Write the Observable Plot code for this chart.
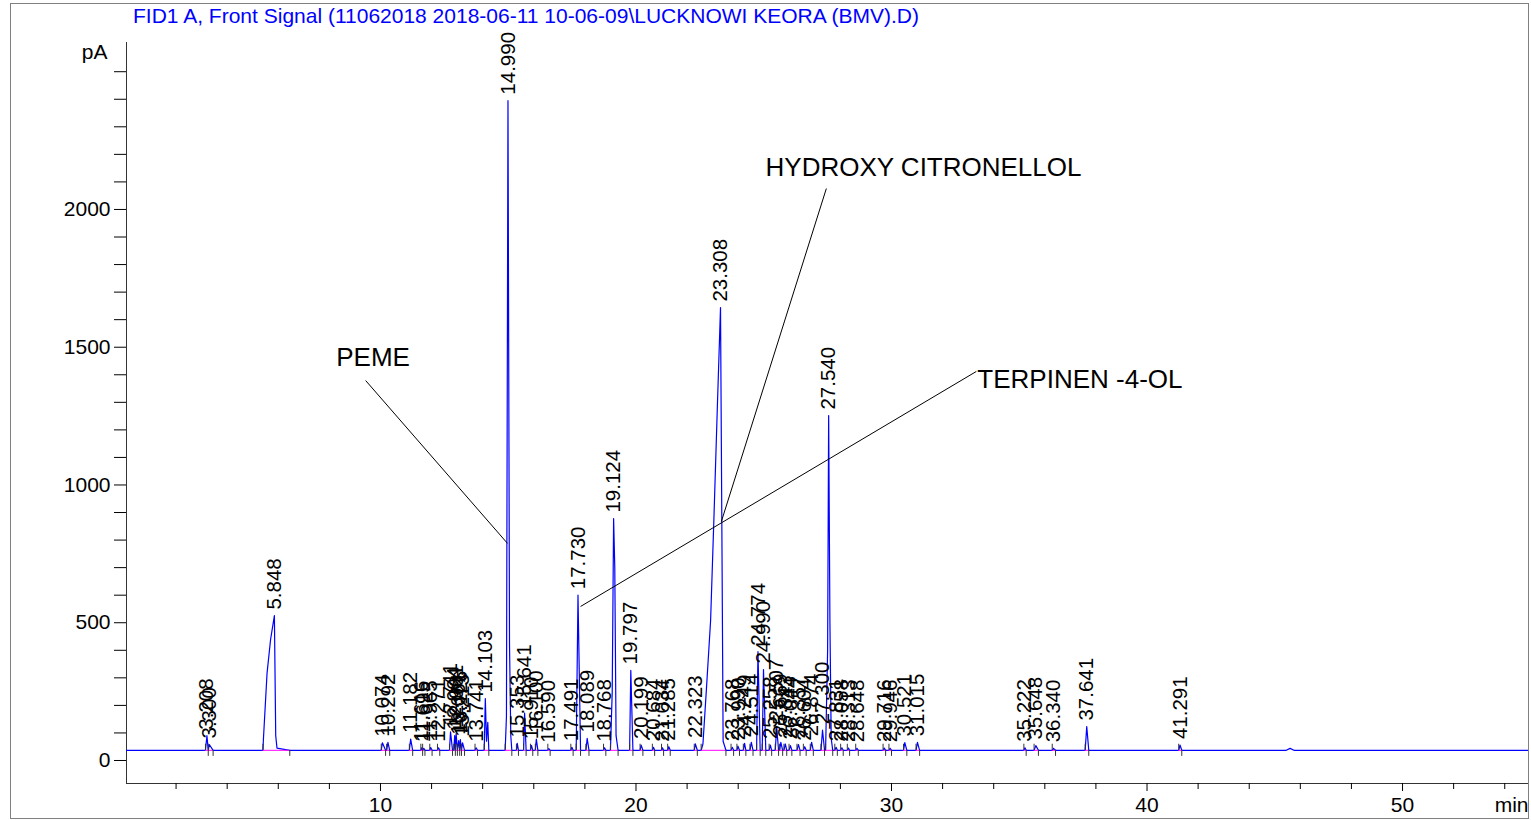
<!DOCTYPE html>
<html><head><meta charset="utf-8">
<script src="https://cdn.jsdelivr.net/npm/d3@7"></script>
<script src="https://cdn.jsdelivr.net/npm/@observablehq/plot@0.6"></script>
<style>
body{margin:0;background:#fff;font-family:"Liberation Sans",Arial,sans-serif;}
#wrap{position:relative;width:1531px;height:820px;overflow:hidden;background:#fff}
#frame{position:absolute;left:10px;top:3px;width:1519px;height:816px;border:1px solid #808080;box-sizing:border-box;pointer-events:none}
#title{position:absolute;left:133px;top:4px;font-size:21px;color:#0000ff;white-space:nowrap;line-height:24px}
#chart{position:absolute;left:0;top:30px}
</style></head><body>
<div id="wrap">
<div id="title">FID1 A, Front Signal (11062018 2018-06-11 10-06-09\LUCKNOWI KEORA (BMV).D)</div>
<div id="chart"></div>
<div id="frame"></div>
</div>
<script>
// Retention times (min) of the labelled peaks
const peakTimes = [3.208, 3.300, 5.848, 10.074, 10.292, 11.182, 11.616, 11.695, 11.965, 12.271, 12.741, 12.904, 12.961, 13.061, 13.126, 13.213, 13.741, 14.103, 14.990, 15.353, 15.641, 15.910, 16.100, 16.590, 17.491, 17.730, 18.089, 18.768, 19.124, 19.797, 20.199, 20.684, 21.034, 21.285, 22.323, 23.308, 23.768, 23.990, 24.249, 24.514, 24.774, 24.990, 25.258, 25.507, 25.669, 25.843, 26.044, 26.357, 26.604, 26.874, 27.300, 27.540, 27.831, 28.058, 28.313, 28.648, 29.716, 29.946, 30.521, 31.015, 35.222, 35.648, 36.340, 37.641, 41.291];
// Apex signal (pA)
const peakHeights = [90, 58, 526, 64, 66, 78, 46, 44, 47, 46, 104, 90, 98, 72, 76, 64, 46, 225, 2395, 62, 172, 55, 78, 43, 48, 600, 80, 46, 878, 327, 56, 48, 46, 50, 60, 1644, 48, 52, 62, 66, 395, 330, 56, 120, 66, 60, 54, 58, 50, 66, 110, 1252, 48, 46, 45, 44, 45, 44, 65, 66, 46, 54, 44, 123, 56];
// Integration start / end (min)
const peakStarts = [3.15, 3.26, 5.40, 10.03, 10.24, 11.13, 11.58, 11.65, 11.93, 12.23, 12.70, 12.87, 12.93, 13.01, 13.10, 13.17, 13.70, 14.06, 14.88, 15.32, 15.60, 15.87, 16.06, 16.55, 17.45, 17.66, 18.04, 18.73, 19.00, 19.75, 20.16, 20.64, 21.00, 21.24, 22.28, 22.55, 23.72, 23.95, 24.20, 24.46, 24.72, 24.94, 25.21, 25.45, 25.62, 25.79, 25.99, 26.30, 26.55, 26.82, 27.24, 27.42, 27.78, 28.01, 28.27, 28.60, 29.67, 29.90, 30.47, 30.96, 35.18, 35.58, 36.29, 37.58, 41.24];
const peakEnds = [3.26, 3.45, 6.45, 10.20, 10.36, 11.26, 11.65, 11.74, 12.02, 12.32, 12.82, 12.93, 13.01, 13.10, 13.17, 13.29, 13.80, 14.24, 15.14, 15.40, 15.70, 15.96, 16.16, 16.64, 17.54, 17.83, 18.16, 18.82, 19.30, 19.88, 20.27, 20.73, 21.08, 21.34, 22.40, 23.52, 23.82, 24.05, 24.30, 24.58, 24.86, 25.08, 25.31, 25.58, 25.74, 25.90, 26.10, 26.42, 26.66, 26.94, 27.38, 27.70, 27.88, 28.11, 28.36, 28.70, 29.77, 30.00, 30.60, 31.10, 35.27, 35.75, 36.42, 37.72, 41.36];
// Extra points read along peak flanks / small unlabelled bumps
const shapeTimes = [5.42, 5.56, 5.70, 5.90, 5.95, 14.15, 14.20, 14.93, 15.05, 15.10, 19.07, 19.17, 19.22, 22.62, 22.75, 22.92, 23.05, 23.18, 23.37, 23.41, 27.50, 27.59, 27.64, 45.45, 45.60, 45.75];
const shapeSignals = [80, 316, 440, 90, 45, 70, 138, 160, 420, 90, 250, 700, 90, 60, 250, 508, 880, 1270, 700, 70, 400, 500, 80, 37, 44, 37];
const baselineLevel = 37;
// Annotations
const noteTexts = ["PEME", "HYDROXY CITRONELLOL", "TERPINEN -4-OL"];
const noteX = [8.27, 25.07, 33.36];
const noteY = [1463, 2152, 1383];
const leaderX1 = [9.42, 27.45, 33.32];
const leaderY1 = [1379, 2076, 1412];
const leaderX2 = [14.97, 23.34, 17.83];
const leaderY2 = [788, 867, 559];
// Axes
const xDomain = [0.06, 54.93];
const yDomain = [-83.5, 2606];
const xMajorTicks = [10, 20, 30, 40, 50];
const xMinorTicks = [2, 4, 6, 8, 12, 14, 16, 18, 22, 24, 26, 28, 32, 34, 36, 38, 42, 44, 46, 48, 52, 54];
const yTicks = [0, 100, 200, 300, 400, 500, 600, 700, 800, 900, 1000, 1100, 1200, 1300, 1400, 1500, 1600, 1700, 1800, 1900, 2000, 2100, 2200, 2300, 2400, 2500];
const yTickLabels = [0, 500, 1000, 1500, 2000];

// Build tables
const peaks = peakTimes.map((t, i) => ({t, v: peakHeights[i], s: peakStarts[i], e: peakEnds[i], label: t.toFixed(3)}));
const trace = [{t: xDomain[0], v: baselineLevel}];
peaks.forEach(p => trace.push({t: p.s, v: baselineLevel}, {t: p.t, v: p.v}, {t: p.e, v: baselineLevel}));
shapeTimes.forEach((t, i) => trace.push({t, v: shapeSignals[i]}));
trace.push({t: xDomain[1], v: baselineLevel});
trace.sort((a, b) => a.t - b.t);
const notes = noteTexts.map((text, i) => ({text, x: noteX[i], y: noteY[i], x1: leaderX1[i], y1: leaderY1[i], x2: leaderX2[i], y2: leaderY2[i]}));

const tickDepth = 22;
const chart = Plot.plot({
  width: 1531, height: 790,
  marginLeft: 126, marginRight: 3, marginTop: 12, marginBottom: 37,
  style: {fontFamily: '"Liberation Sans", Arial, sans-serif', fontSize: "21px", color: "black", background: "white", overflow: "visible"},
  x: {domain: xDomain},
  y: {domain: yDomain},
  marks: [
    Plot.ruleX([xDomain[0]], {stroke: "#333"}),
    Plot.ruleY([yDomain[0]], {stroke: "#333"}),
    Plot.axisY(yTicks, {tickSize: 12, tickPadding: 4, fontSize: 21, label: null, tickFormat: d => yTickLabels.includes(d) ? String(d) : ""}),
    Plot.axisX(xMinorTicks, {tickSize: 6, tickFormat: () => "", label: null}),
    Plot.axisX(xMajorTicks, {tickSize: 8, tickPadding: 6, fontSize: 21, label: null}),
    Plot.text(["pA"], {frameAnchor: "top-left", textAnchor: "end", lineAnchor: "middle", dx: -19, dy: 10, fontSize: 21}),
    Plot.text(["min"], {frameAnchor: "bottom-right", textAnchor: "end", lineAnchor: "top", dy: 14, fontSize: 21}),
    Plot.line(trace, {x: "t", y: "v", stroke: "#0000ff", strokeWidth: 1.2}),
    Plot.ruleY(peaks, {x1: "s", x2: "e", y: baselineLevel, stroke: "#ff00ff", strokeWidth: 1}),
    Plot.ruleX(peaks, {x: "e", y1: baselineLevel, y2: baselineLevel - tickDepth, stroke: "#333"}),
    Plot.ruleX(peaks, {x: "s", y1: baselineLevel, y2: baselineLevel + tickDepth, stroke: "#333"}),
    Plot.text(peaks, {x: "t", y: "v", text: "label", rotate: -90, textAnchor: "start", lineAnchor: "middle", dy: -6, fontSize: 20.5, fill: "black"}),
    Plot.link(notes, {x1: "x1", y1: "y1", x2: "x2", y2: "y2", stroke: "black", strokeWidth: 1}),
    Plot.text(notes, {x: "x", y: "y", text: "text", textAnchor: "start", lineAnchor: "middle", fontSize: 26, fill: "black"})
  ]
});
document.getElementById("chart").appendChild(chart);
</script>
</body></html>
